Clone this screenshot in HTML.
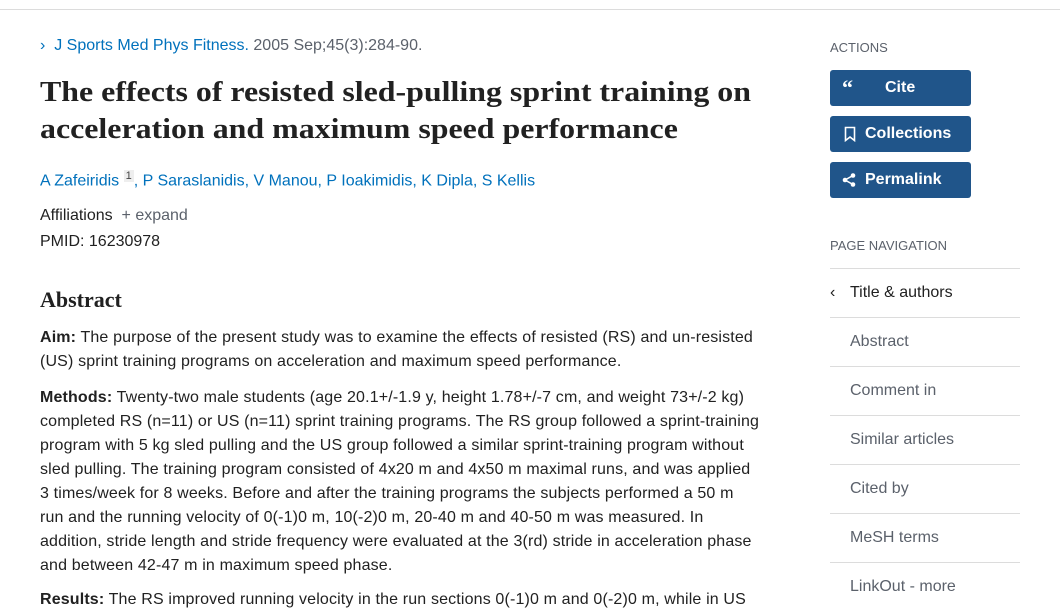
<!DOCTYPE html>
<html><head><meta charset="utf-8"><style>
body{margin:0;width:1060px;height:600px;overflow:hidden;background:#fff;font-family:"Liberation Sans",sans-serif;color:#212121;position:relative}
.a{position:absolute;white-space:nowrap}
.blue{color:#0071bc}
.t{font-family:"Liberation Serif",serif;font-weight:bold;font-size:29px;line-height:37px;color:#212121;transform:scaleX(1.1);transform-origin:0 0}
.p{font-size:16px;line-height:24px}
.ab{letter-spacing:0.15px}
.btn{position:absolute;left:830px;width:141px;height:36px;background:#20558a;border-radius:3px;color:#fff;font-weight:bold;font-size:16px;line-height:36px}
.nav{position:absolute;left:830px;width:190px;border-top:1px solid #dcdcdc;height:48px;line-height:48px;font-size:16px;color:#5b616b}
</style></head><body>
<div class="a" style="left:0;top:9px;width:1060px;border-top:1px solid #dcdcdc"></div>
<div class="a p" style="left:40px;top:34px;color:#5b616b"><span class="blue">&#8250;&nbsp; J Sports Med Phys Fitness.</span> 2005 Sep;45(3):284-90.</div>
<div class="a t" style="left:40px;top:74px">The effects of resisted sled-pulling sprint training on<br>acceleration and maximum speed performance</div>
<div class="a p blue" style="left:40px;top:164px">A Zafeiridis <sup style="font-size:11px;color:#444;background:#eee;padding:0 2px">1</sup>, P Saraslanidis, V Manou, P Ioakimidis, K Dipla, S Kellis</div>
<div class="a p" style="left:40px;top:204px">Affiliations &nbsp;<span style="color:#5b616b">+ expand</span></div>
<div class="a p" style="left:40px;top:230px">PMID: 16230978</div>
<div class="a" style="left:40px;top:286px;font-family:'Liberation Serif',serif;font-weight:bold;font-size:22px;line-height:28px">Abstract</div>
<div class="a p ab" style="left:40px;top:326px"><b>Aim:</b> The purpose of the present study was to examine the effects of resisted (RS) and un-resisted<br>(US) sprint training programs on acceleration and maximum speed performance.</div>
<div class="a p ab" style="left:40px;top:386px"><b>Methods:</b> Twenty-two male students (age 20.1+/-1.9 y, height 1.78+/-7 cm, and weight 73+/-2 kg)<br>completed RS (n=11) or US (n=11) sprint training programs. The RS group followed a sprint-training<br>program with 5 kg sled pulling and the US group followed a similar sprint-training program without<br>sled pulling. The training program consisted of 4x20 m and 4x50 m maximal runs, and was applied<br>3 times/week for 8 weeks. Before and after the training programs the subjects performed a 50 m<br>run and the running velocity of 0(-1)0 m, 10(-2)0 m, 20-40 m and 40-50 m was measured. In<br>addition, stride length and stride frequency were evaluated at the 3(rd) stride in acceleration phase<br>and between 42-47 m in maximum speed phase.</div>
<div class="a p ab" style="left:40px;top:588px"><b>Results:</b> The RS improved running velocity in the run sections 0(-1)0 m and 0(-2)0 m, while in US</div>
<div class="a" style="left:830px;top:40px;font-size:13px;color:#5b616b">ACTIONS</div>
<div class="btn" style="top:70px"><span style="position:absolute;left:12px;font-family:'Liberation Serif',serif;font-size:22px">&#8220;</span><span style="position:absolute;left:55px">Cite</span></div>
<div class="btn" style="top:116px"><svg style="position:absolute;left:14px;top:10px" width="12" height="16"><path d="M1.5 1.5h9v13l-4.5-3.5-4.5 3.5z" fill="none" stroke="#fff" stroke-width="1.6"/></svg><span style="position:absolute;left:35px">Collections</span></div>
<div class="btn" style="top:162px"><svg style="position:absolute;left:12px;top:11px" width="14" height="14"><circle cx="11" cy="2.5" r="2.3" fill="#fff"/><circle cx="3" cy="7" r="2.3" fill="#fff"/><circle cx="11" cy="11.5" r="2.3" fill="#fff"/><path d="M11 2.5L3 7l8 4.5" stroke="#fff" stroke-width="1.5" fill="none"/></svg><span style="position:absolute;left:35px">Permalink</span></div>
<div class="a" style="left:830px;top:238px;font-size:13px;color:#5b616b">PAGE NAVIGATION</div>
<div class="nav" style="top:268px;color:#212121;padding-left:0"><span style="display:inline-block;width:20px">&#8249;</span>Title &amp; authors</div>
<div class="nav" style="top:317px;padding-left:20px;width:170px">Abstract</div>
<div class="nav" style="top:366px;padding-left:20px;width:170px">Comment in</div>
<div class="nav" style="top:415px;padding-left:20px;width:170px">Similar articles</div>
<div class="nav" style="top:464px;padding-left:20px;width:170px">Cited by</div>
<div class="nav" style="top:513px;padding-left:20px;width:170px">MeSH terms</div>
<div class="nav" style="top:562px;padding-left:20px;width:170px">LinkOut - more</div>
</body></html>
